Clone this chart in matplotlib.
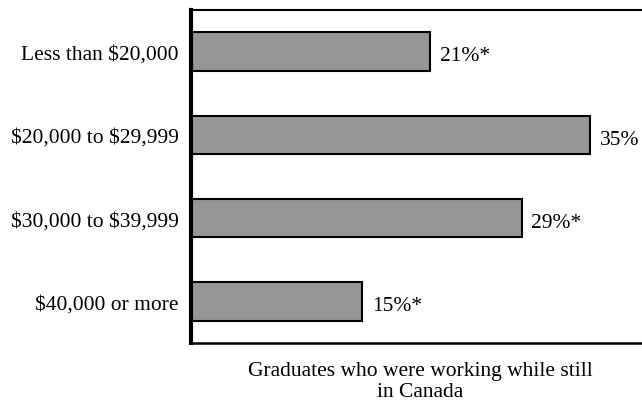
import matplotlib.pyplot as plt

categories = ['Less than $20,000', '$20,000 to $29,999', '$30,000 to $39,999', '$40,000 or more']
values = [21, 35, 29, 15]
value_labels = ['21%*', '35%', '29%*', '15%*']

plt.rcParams['font.family'] = ['Liberation Serif', 'DejaVu Serif']
plt.rcParams['text.parse_math'] = False

fig = plt.figure(figsize=(6.42, 4.02), dpi=100)
ax = fig.add_axes([191 / 642, 58 / 402, 456 / 642, 333 / 402])

y = list(range(len(categories)))
ax.barh(y, values, height=0.46, color='#969696', edgecolor='black', linewidth=1.5)
for yi, v, lab in zip(y, values, value_labels):
    ax.text(v + 0.85, yi + 0.05, lab, va='center', ha='left', fontsize=15.5)

ax.set_ylim(len(categories) - 0.5, -0.5)
ax.set_xlim(0, 40)
ax.set_yticks(y)
ax.set_yticklabels(categories, fontsize=15.5)
ax.set_xticks([])
ax.tick_params(axis='y', length=0, pad=9)
ax.spines['left'].set_linewidth(3)
ax.spines['top'].set_linewidth(1.5)
ax.spines['bottom'].set_linewidth(1.8)
ax.spines['right'].set_visible(False)

fig.text(420 / 642, 1 - 382 / 402, 'Graduates who were working while still\nin Canada',
         ha='center', va='center', fontsize=15.5, linespacing=1.2)

fig.savefig('out.png', dpi=100)
